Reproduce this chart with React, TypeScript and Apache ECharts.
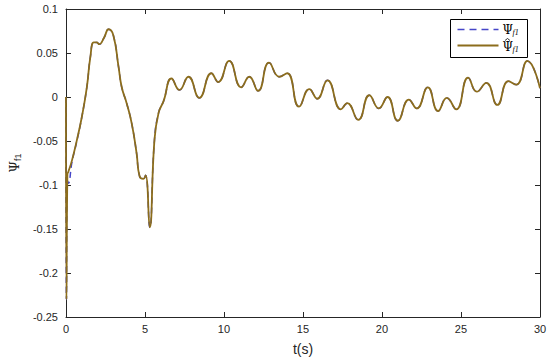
import React, { useEffect, useRef } from "react";
import * as echarts from "echarts";

const tValues = [
  0, 0.03, 0.09, 0.15, 0.38, 0.69, 1.0, 1.32, 1.54, 1.76, 1.95, 2.1, 2.4, 2.7, 3.0, 3.33, 3.53,
  3.84, 4.16, 4.47, 4.66, 4.9, 5.04, 5.3, 5.6, 5.86, 6.17, 6.68, 7.18, 7.75, 8.44, 9.2, 9.64,
  10.33, 11.09, 11.6, 12.16, 12.85, 13.5, 14.0, 14.75, 15.4, 15.9, 16.55, 17.4, 17.8, 18.5,
  19.2, 19.8, 20.35, 21.0, 21.7, 22.2, 22.9, 23.55, 24.1, 24.7, 25.45, 26.0, 26.6, 27.3, 28.0,
  28.5, 29.2, 30,
];

const psiHatValues = [
  0, -0.23, -0.088, -0.085, -0.072, -0.049, -0.023, 0.011, 0.045, 0.062, 0.062, 0.06, 0.067,
  0.077, 0.07, 0.034, 0.011, -0.007, -0.03, -0.064, -0.09, -0.093, -0.089, -0.148, -0.049,
  -0.018, -0.005, 0.021, 0.008, 0.023, -0.001, 0.027, 0.017, 0.041, 0.011, 0.023, 0.007, 0.039,
  0.023, 0.027, -0.011, 0.009, -0.002, 0.019, -0.014, -0.007, -0.026, 0.002, -0.013, 0.0,
  -0.027, -0.003, -0.013, 0.011, -0.016, -0.001, -0.014, 0.022, 0.006, 0.016, -0.009, 0.018,
  0.014, 0.041, 0.01,
];

const psiValues = [
  0, -0.23, -0.095, -0.098, -0.074, -0.05, -0.023, 0.011, 0.045, 0.062, 0.062, 0.06, 0.067,
  0.077, 0.07, 0.034, 0.011, -0.007, -0.03, -0.064, -0.09, -0.093, -0.089, -0.148, -0.049,
  -0.018, -0.005, 0.021, 0.008, 0.023, -0.001, 0.027, 0.017, 0.041, 0.011, 0.023, 0.007, 0.039,
  0.023, 0.027, -0.011, 0.009, -0.002, 0.019, -0.014, -0.007, -0.026, 0.002, -0.013, 0.0,
  -0.027, -0.003, -0.013, 0.011, -0.016, -0.001, -0.014, 0.022, 0.006, 0.016, -0.009, 0.018,
  0.014, 0.041, 0.01,
];

const xTicks = { min: 0, max: 30, interval: 5 };
const yTicks = { min: -0.25, max: 0.1, interval: 0.05 };

const BROWN = "#8c6d1c";
const BLUE = "#4646c8";
const AXIS = "#262626";
const SERIF = "DejaVu Serif, Liberation Serif, serif";

export default function App() {
  const ref = useRef<HTMLDivElement>(null);
  useEffect(() => {
    if (!ref.current) return;
    const chart = echarts.init(ref.current, undefined, { renderer: "svg" });
    const pair = (vals: number[]) => tValues.map((t, i) => [t, vals[i]]);
    const labelFont = { fontFamily: "Liberation Sans, Arial, sans-serif", fontSize: 11, color: AXIS };
    const fmtY = (v: number) => String(Math.round(v * 100) / 100);
    const psiText = (x: number, y: number) => ({
      type: "text",
      x,
      y,
      style: { text: "\u03A8", font: "12px " + SERIF, fill: "#000", textVerticalAlign: "middle" },
    });
    const subText = (x: number, y: number) => ({
      type: "text",
      x,
      y,
      style: { text: "f1", font: "italic 8px Liberation Serif, serif", fill: "#000", textVerticalAlign: "middle" },
    });
    chart.setOption({
      animation: false,
      grid: { left: 64, right: 10, top: 9, bottom: 44, containLabel: false },
      graphic: [
        {
          type: "group",
          left: 450,
          top: 19,
          z: 100,
          children: [
            { type: "rect", shape: { x: 0, y: 0, width: 77, height: 38 }, style: { fill: "#fff", stroke: "#000", lineWidth: 1 } },
            { type: "line", shape: { x1: 7, y1: 10, x2: 48, y2: 10 }, style: { stroke: BLUE, lineWidth: 1.5, lineDash: [7, 5] } },
            { type: "line", shape: { x1: 7, y1: 26, x2: 48, y2: 26 }, style: { stroke: BROWN, lineWidth: 1.8 } },
            psiText(52, 10),
            subText(62, 13),
            psiText(52, 27),
            subText(62, 30),
            {
              type: "polyline",
              shape: { points: [[54.5, 21], [57, 19], [59.5, 21]] },
              style: { stroke: "#000", lineWidth: 0.8, fill: null },
            },
          ],
        },
      ],
      xAxis: [
        {
          type: "value",
          min: xTicks.min,
          max: xTicks.max,
          interval: xTicks.interval,
          position: "bottom",
          name: "t(s)",
          nameLocation: "middle",
          nameGap: 25,
          nameTextStyle: { fontFamily: "Liberation Sans, Arial, sans-serif", fontSize: 14, color: AXIS },
          axisLine: { onZero: false, lineStyle: { color: AXIS, width: 1 } },
          axisTick: { inside: true, length: 5, lineStyle: { color: AXIS } },
          axisLabel: { ...labelFont, margin: 6 },
          splitLine: { show: false },
        },
        {
          type: "value",
          min: xTicks.min,
          max: xTicks.max,
          interval: xTicks.interval,
          position: "top",
          axisLine: { onZero: false, lineStyle: { color: AXIS, width: 1 } },
          axisTick: { inside: true, length: 5, lineStyle: { color: AXIS } },
          axisLabel: { show: false },
          splitLine: { show: false },
        },
      ],
      yAxis: [
        {
          type: "value",
          min: yTicks.min,
          max: yTicks.max,
          interval: yTicks.interval,
          position: "left",
          name: "{p|\u03A8}{s|f1}",
          nameLocation: "middle",
          nameRotate: 90,
          nameGap: 42,
          nameTextStyle: {
            rich: {
              p: { fontFamily: SERIF, fontSize: 13, color: AXIS },
              s: { fontFamily: "Liberation Sans, Arial, sans-serif", fontSize: 9, color: AXIS, padding: [6, 0, 0, 0] },
            },
          },
          axisLine: { onZero: false, lineStyle: { color: AXIS, width: 1 } },
          axisTick: { inside: true, length: 5, lineStyle: { color: AXIS } },
          axisLabel: { ...labelFont, margin: 8, formatter: fmtY },
          splitLine: { show: false },
        },
        {
          type: "value",
          min: yTicks.min,
          max: yTicks.max,
          interval: yTicks.interval,
          position: "right",
          axisLine: { onZero: false, lineStyle: { color: AXIS, width: 1 } },
          axisTick: { inside: true, length: 5, lineStyle: { color: AXIS } },
          axisLabel: { show: false },
          splitLine: { show: false },
        },
      ],
      series: [
        {
          name: "psi",
          type: "line",
          data: pair(psiValues),
          showSymbol: false,
          symbol: "none",
          smooth: 0.5,
          lineStyle: { color: BLUE, width: 1.5, type: [6, 4] },
          itemStyle: { color: BLUE },
        },
        {
          name: "psihat",
          type: "line",
          data: pair(psiHatValues),
          showSymbol: false,
          symbol: "none",
          smooth: 0.5,
          lineStyle: { color: BROWN, width: 1.8 },
          itemStyle: { color: BROWN },
        },
      ],
    });
    return () => chart.dispose();
  }, []);
  return <div ref={ref} style={{ width: 550, height: 361, position: "absolute", left: 0, top: 0, background: "#fff" }} />;
}
